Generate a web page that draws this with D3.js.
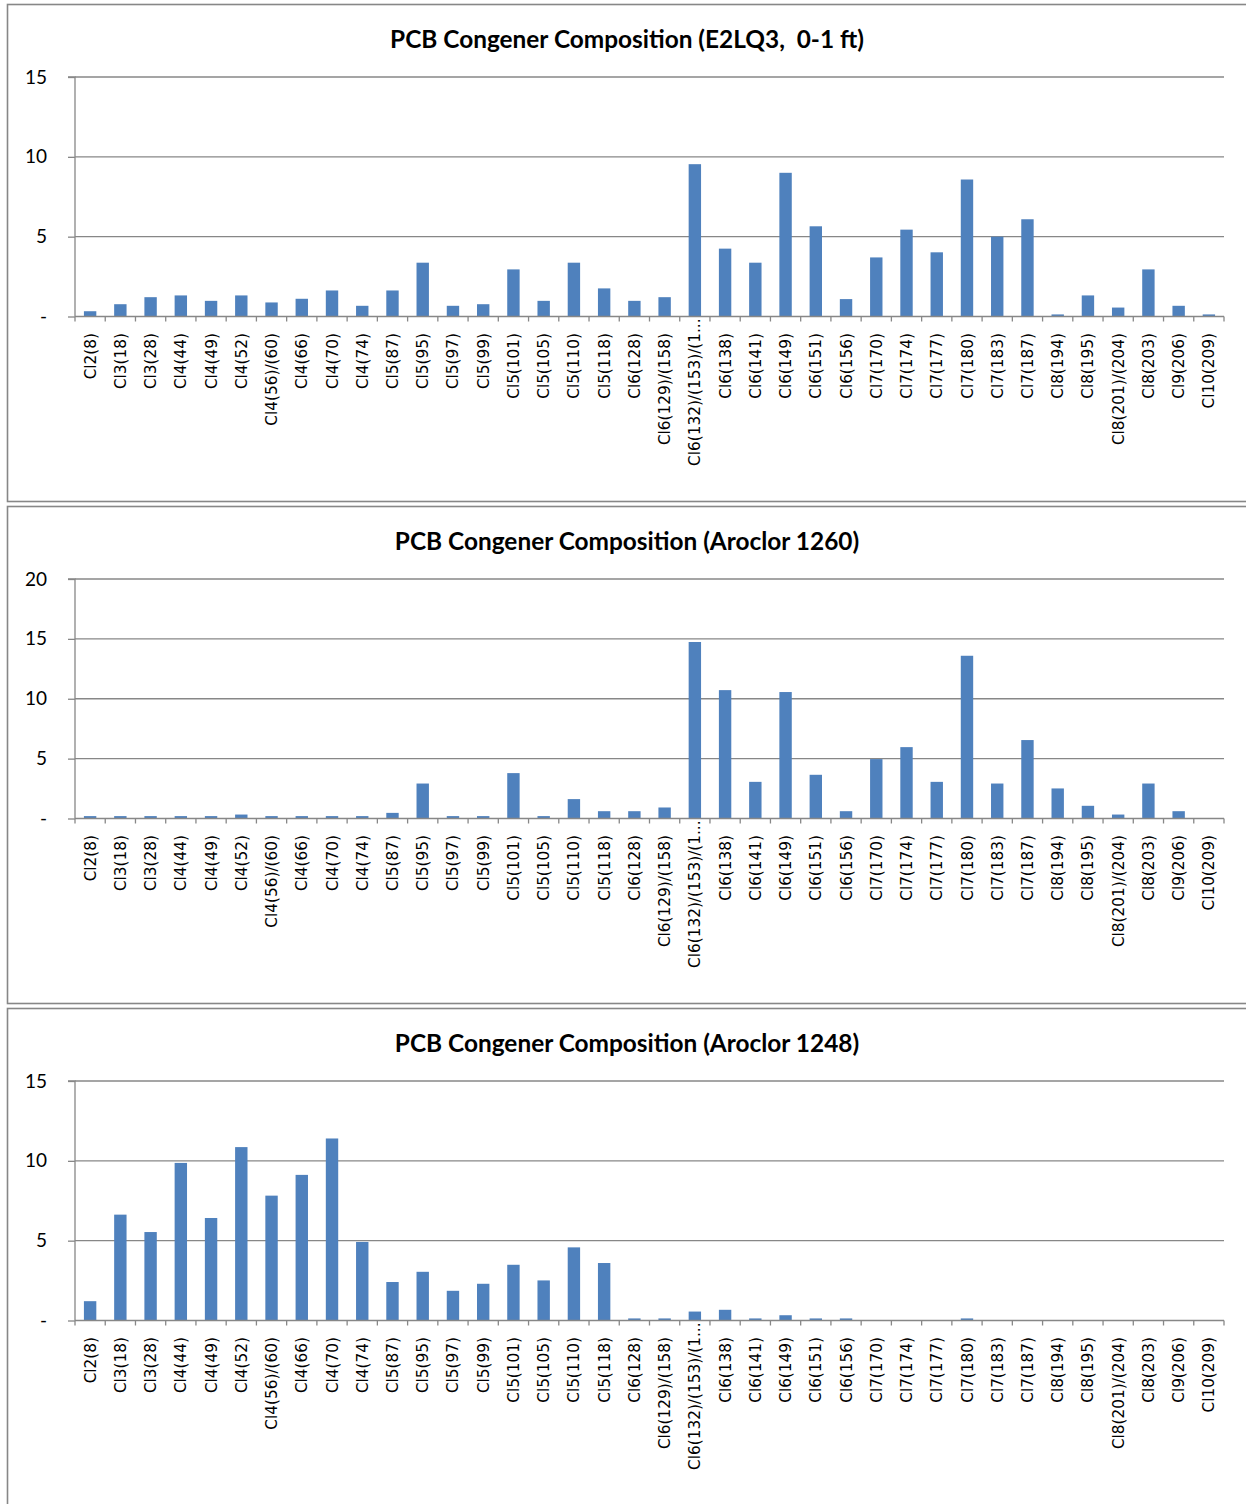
<!DOCTYPE html>
<html><head><meta charset="utf-8">
<script src="https://cdn.jsdelivr.net/npm/d3@7"></script>
<style>body{margin:0;background:#fff} svg{display:block} .title{white-space:pre}</style>
</head><body><svg id="chart" width="1246" height="1504"></svg>
<script>
const categories = ["Cl2(8)","Cl3(18)","Cl3(28)","Cl4(44)","Cl4(49)","Cl4(52)","Cl4(56)/(60)","Cl4(66)","Cl4(70)","Cl4(74)",
  "Cl5(87)","Cl5(95)","Cl5(97)","Cl5(99)","Cl5(101)","Cl5(105)","Cl5(110)","Cl5(118)",
  "Cl6(128)","Cl6(129)/(158)","Cl6(132)/(153)/(1...","Cl6(138)","Cl6(141)","Cl6(149)","Cl6(151)","Cl6(156)",
  "Cl7(170)","Cl7(174)","Cl7(177)","Cl7(180)","Cl7(183)","Cl7(187)",
  "Cl8(194)","Cl8(195)","Cl8(201)/(204)","Cl8(203)","Cl9(206)","Cl10(209)"];
const titles = ["PCB Congener Composition (E2LQ3,  0-1 ft)",
  "PCB Congener Composition (Aroclor 1260)",
  "PCB Congener Composition (Aroclor 1248)"];
const valuesE2LQ3 = [0.33,0.77,1.21,1.32,0.98,1.32,0.88,1.11,1.63,0.67,
  1.63,3.37,0.67,0.77,2.95,0.98,3.37,1.76,
  0.98,1.21,9.54,4.25,3.37,9.0,5.65,1.09,
  3.70,5.44,4.02,8.58,5.0,6.09,
  0.13,1.32,0.56,2.95,0.67,0.13];
const valuesA1260 = [0.2,0.2,0.2,0.2,0.2,0.33,0.2,0.2,0.2,0.2,
  0.47,2.92,0.2,0.2,3.79,0.2,1.62,0.61,
  0.61,0.92,14.74,10.72,3.06,10.56,3.65,0.61,
  4.96,5.96,3.06,13.59,2.92,6.55,
  2.51,1.06,0.33,2.92,0.61,0];
const valuesA1248 = [1.21,6.63,5.54,9.87,6.42,10.86,7.82,9.12,11.40,4.92,
  2.41,3.05,1.86,2.30,3.49,2.51,4.58,3.60,
  0.13,0.13,0.56,0.67,0.13,0.33,0.13,0.13,
  0,0,0,0.13,0,0,
  0,0,0,0,0,0];
const yTicksE2LQ3 = [0,5,10,15];
const yTicksA1260 = [0,5,10,15,20];
const yTicksA1248 = [0,5,10,15];

const panels = [
  {title: titles[0], values: valuesE2LQ3, ticks: yTicksE2LQ3},
  {title: titles[1], values: valuesA1260, ticks: yTicksA1260},
  {title: titles[2], values: valuesA1248, ticks: yTicksA1248}
];

const svg = d3.select("#chart");
const grey = "#878787";
const barColor = "#4f81bd";
const plotLeft = 75, plotRight = 1224;
const panelStart = 4, panelStep = 502, panelH = 497;
const plotTopOff = 73, plotH = 239.5, titleOff = 43.5;

const x = d3.scaleBand().domain(categories).range([plotLeft, plotRight]).padding(0);
const barFrac = 0.41;

panels.forEach((p, i) => {
  const top = panelStart + i * panelStep;
  const g = svg.append("g");
  g.append("rect").attr("x", 7.5).attr("y", top + 0.5).attr("width", 1260).attr("height", panelH)
    .attr("fill", "#fff").attr("stroke", grey).attr("stroke-width", 1.6);

  const y0 = top + plotTopOff + plotH, y1 = top + plotTopOff;
  const y = d3.scaleLinear().domain([0, d3.max(p.ticks)]).range([y0, y1]);

  g.append("text").attr("class", "title").attr("x", 627).attr("y", top + titleOff).attr("text-anchor", "middle")
    .attr("font-family", "Lato, 'Open Sans', sans-serif").attr("font-weight", "bold")
    .attr("font-size", 24.4).attr("fill", "#000").text(p.title);

  // gridlines
  g.selectAll(".grid").data(p.ticks.filter(t => t !== 0)).enter().append("line")
    .attr("x1", plotLeft).attr("x2", plotRight).attr("y1", d => y(d)).attr("y2", d => y(d))
    .attr("stroke", grey).attr("stroke-width", 1.3);

  // bars
  g.selectAll(".bar").data(categories.map((c, k) => ({c, v: p.values[k]}))).enter().append("rect")
    .attr("x", d => x(d.c) + x.bandwidth() * (1 - barFrac) / 2)
    .attr("width", x.bandwidth() * barFrac)
    .attr("y", d => y(d.v)).attr("height", d => y(0) - y(d.v))
    .attr("fill", barColor);

  // y axis
  const ya = d3.axisLeft(y).tickValues(p.ticks).tickSize(7).tickPadding(21)
    .tickFormat(d => d === 0 ? "-" : d);
  const yg = g.append("g").attr("transform", `translate(${plotLeft},0)`).call(ya);
  yg.select(".domain").attr("stroke", grey).attr("stroke-width", 1.3).attr("d", `M-7,${y1}H0V${y0}`);
  yg.selectAll(".tick line").attr("stroke", grey).attr("stroke-width", 1.3);
  yg.selectAll(".tick text").attr("font-family", "Lato, sans-serif").attr("font-size", 19).attr("fill", "#000");

  // x axis
  g.append("line").attr("x1", plotLeft).attr("x2", plotRight).attr("y1", y0).attr("y2", y0)
    .attr("stroke", grey).attr("stroke-width", 1.3);
  const bounds = categories.map(c => x(c)).concat([x.range()[1]]);
  g.selectAll(".xt").data(bounds).enter().append("line")
    .attr("x1", d => d).attr("x2", d => d).attr("y1", y0).attr("y2", y0 + 5)
    .attr("stroke", grey).attr("stroke-width", 1.3);

  const labTop = y0 + 16.5;
  const labs = g.selectAll(".xl").data(categories).enter().append("text")
    .attr("transform", d => `translate(${x(d) + x.bandwidth() / 2},${labTop}) rotate(-90)`)
    .attr("text-anchor", "end").attr("dy", "0.36em")
    .attr("font-family", "'DejaVu Sans', Verdana, sans-serif").attr("font-size", 15.3)
    .attr("fill", "#000").text(d => d);
  labs.each(function(d) {
    if (d.endsWith("...")) {
      const t = g.append("text").attr("font-family", "'DejaVu Sans', sans-serif").attr("font-size", 15.3).text("...");
      const w = t.node().getComputedTextLength();
      t.remove();
      d3.select(this).attr("x", w);
    }
  });
});
</script></body></html>
